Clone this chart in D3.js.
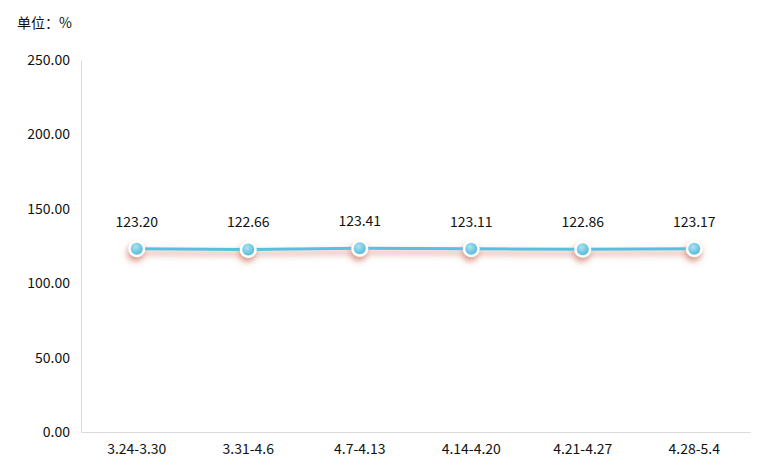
<!DOCTYPE html>
<html><head><meta charset="utf-8">
<script src="https://cdn.jsdelivr.net/npm/d3@7/dist/d3.min.js"></script>
<style>
body{margin:0;background:#fff;}
svg text{font-family:"Microsoft YaHei","Noto Sans CJK SC","Noto Sans",sans-serif;}
</style></head>
<body>
<svg id="c" width="771" height="473"></svg>
<script>
const categories = ["3.24-3.30","3.31-4.6","4.7-4.13","4.14-4.20","4.21-4.27","4.28-5.4"];
const values = [123.20,122.66,123.41,123.11,122.86,123.17];
const yTicks = [0,50,100,150,200,250];
const unitLabel = "单位：%";

(function(){
const svg = d3.select("#c");
const pl = 81, pr = 750, pt = 60, pb = 432;
const x = d3.scaleBand().domain(categories).range([pl,pr]);
const y = d3.scaleLinear().domain([0,250]).range([pb,pt]);

const defs = svg.append("defs");
const f = defs.append("filter").attr("id","sh").attr("x","-20%").attr("y","-60%").attr("width","140%").attr("height","320%");
f.append("feDropShadow").attr("dx",-1).attr("dy",4).attr("stdDeviation",3.2)
  .attr("flood-color","#c8664f").attr("flood-opacity",0.7);
const g = defs.append("radialGradient").attr("id","mg").attr("cx","40%").attr("cy","35%").attr("r","70%");
g.append("stop").attr("offset","0%").attr("stop-color","#aee2f1");
g.append("stop").attr("offset","100%").attr("stop-color","#4fb9d8");

const ya = svg.append("g").attr("transform",`translate(${pl},0)`)
  .call(d3.axisLeft(y).tickValues(yTicks).tickFormat(d3.format(".2f")).tickSize(0).tickPadding(11));
ya.select(".domain").attr("stroke","#d9d9d9");
ya.selectAll("text").attr("font-size",14).attr("fill","#111");

const xa = svg.append("g").attr("transform",`translate(0,${pb})`)
  .call(d3.axisBottom(x).tickSize(0).tickPadding(12));
xa.select(".domain").attr("stroke","#d9d9d9");
xa.selectAll("text").attr("font-size",14).attr("fill","#111");

svg.append("text").attr("x",17).attr("y",28).attr("font-size",14).attr("fill","#111").text(unitLabel);

const cx = d => x(d) + x.bandwidth()/2;
const line = d3.line().x((d,i)=>cx(categories[i])).y(d=>y(d));
const lg = svg.append("g").attr("filter","url(#sh)");
lg.append("path").datum(values).attr("d",line).attr("fill","none").attr("stroke","#56c1dd").attr("stroke-width",3);
lg.selectAll("circle.o").data(values).join("circle").attr("class","o")
  .attr("cx",(d,i)=>cx(categories[i])).attr("cy",d=>y(d)).attr("r",8.5).attr("fill","#fff");
svg.selectAll("circle.i").data(values).join("circle").attr("class","i")
  .attr("cx",(d,i)=>cx(categories[i])).attr("cy",d=>y(d)).attr("r",6).attr("fill","url(#mg)");

svg.selectAll("text.lab").data(values).join("text").attr("class","lab")
  .attr("x",(d,i)=>cx(categories[i])).attr("y",d=>y(d)-22).attr("text-anchor","middle")
  .attr("font-size",14).attr("fill","#111").text(d=>d.toFixed(2));
})();
</script>
</body></html>
